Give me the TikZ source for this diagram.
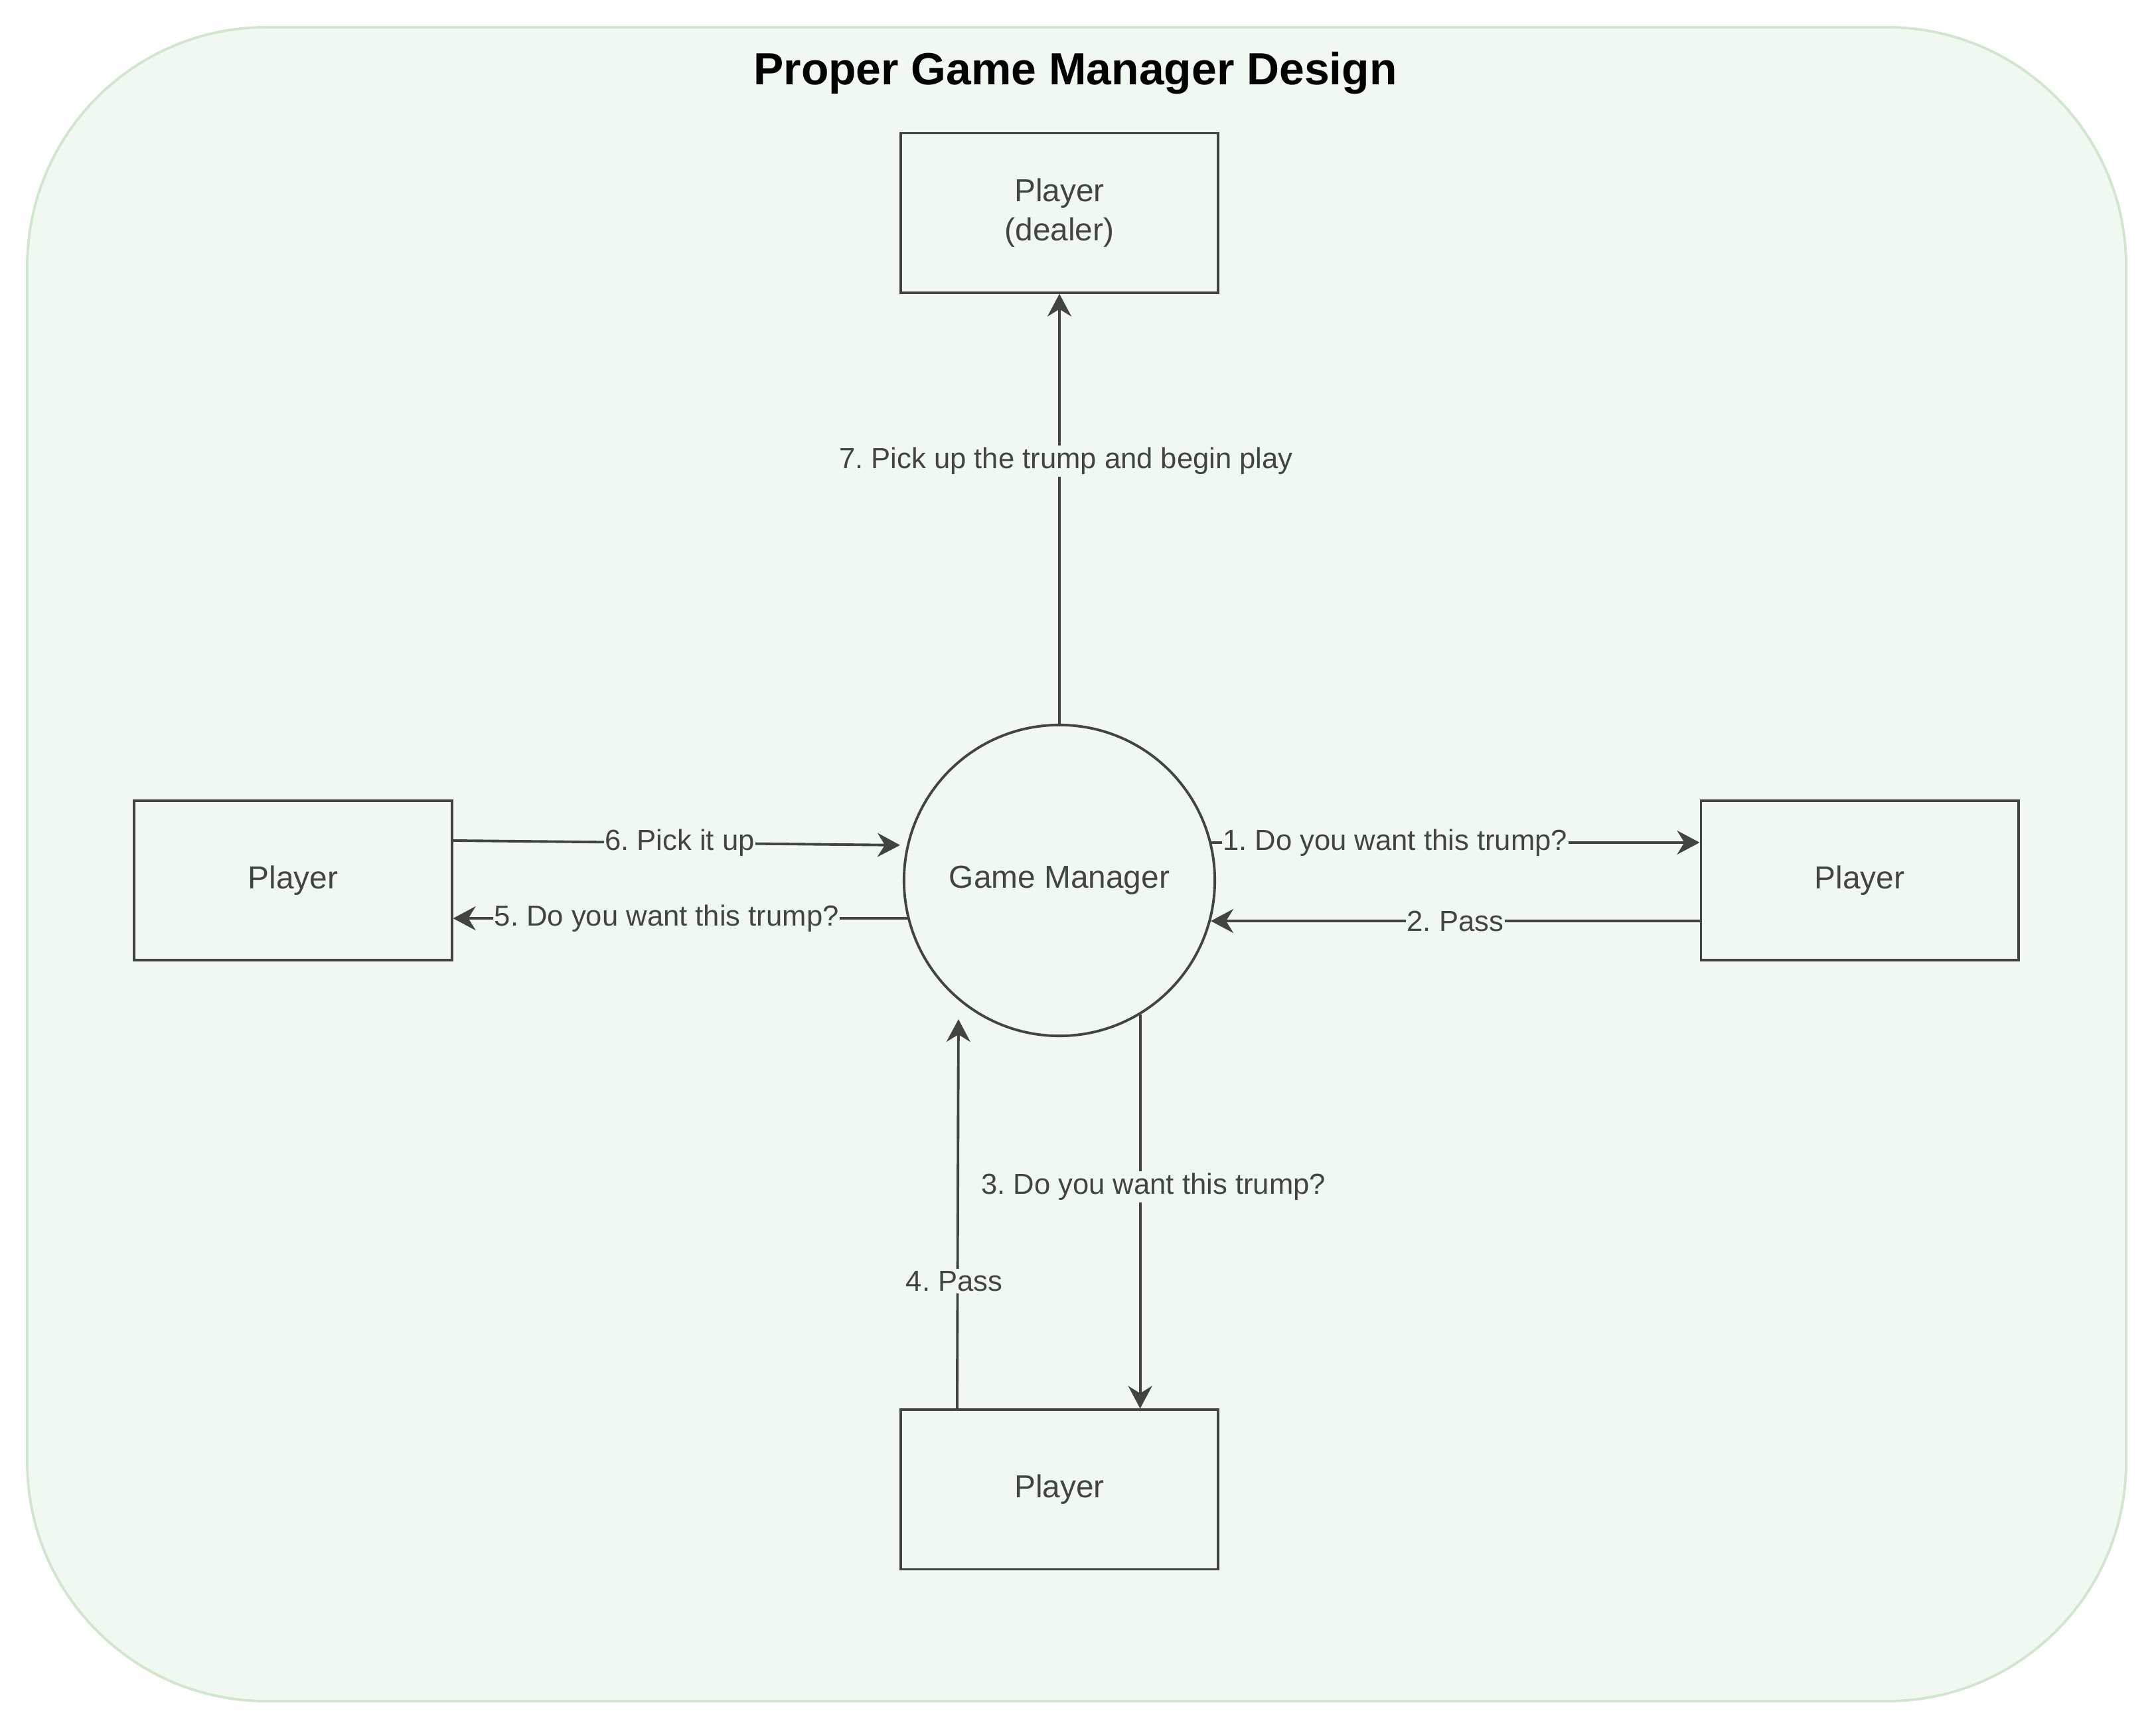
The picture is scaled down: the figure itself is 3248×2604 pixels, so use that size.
\documentclass[tikz,border=0pt]{standalone}
\usepackage{fontspec}
\setmainfont{Liberation Sans}
\usetikzlibrary{positioning,arrows.meta}
\definecolor{ink}{RGB}{64,69,64}
\definecolor{panel}{RGB}{241,248,241}
\definecolor{panelline}{RGB}{210,229,206}
\frenchspacing

\begin{document}
\begin{tikzpicture}[
            x=0.01cm, y=-0.01cm,
            player/.style={rectangle, draw=ink, line width=1.1pt, fill=panel, minimum width=4.78cm, minimum height=2.4cm, align=center, text=ink, font=\fontsize{13.6}{16.6}\selectfont},
            manager/.style={circle, draw=ink, line width=1.1pt, minimum size=4.68cm, text=ink, font=\fontsize{13.6}{16.6}\selectfont},
            flow/.style={-{Stealth[length=3.4mm, width=3.6mm, inset=1.1mm]}, line width=1.1pt, draw=ink},
            lbl/.style={fill=panel, text=ink, inner xsep=0.5pt, inner ysep=1pt, font=\fontsize{12.4}{14}\selectfont}
        ]
        \useasboundingbox (0,0) rectangle (3248,2604);
        \draw[panelline, fill=panel, line width=1.1pt, rounded corners=3.6cm] (41,41) rectangle (3203,2562);
        \node[font=\fontsize{19.3}{23}\selectfont\bfseries] (title) at (1620,110) {Proper Game Manager Design};
        \node[manager] (manager) at (1596,1326) {Game Manager};
        \node[player, above=6.47cm of manager] (dealer) {Player\\(dealer)};
        \node[player, right=7.28cm of manager] (playerR) {Player};
        \node[player, below=5.59cm of manager] (playerB) {Player};
        \node[player, left=6.77cm of manager] (playerL) {Player};
        \draw[flow] (manager.14.86) -- (manager.14.86 -| playerR.west) node[lbl, pos=0.376] {1. Do you want this trump?};
        \draw[flow] (playerR.west |- manager.345.14) -- (manager.345.14) node[lbl, midway] {2. Pass};
        \draw[flow] (manager.301.14) -- (manager.301.14 |- playerB.north) node[lbl, pos=0.437, xshift=2mm] {3. Do you want this trump?};
        \draw[flow] ([xshift=-1.54cm]playerB.north) -- ([xshift=-1.52cm, yshift=0.27cm]manager.south) node[lbl, pos=0.327, xshift=-0.5mm] {4. Pass};
        \draw[flow] (manager.194.86) -- (manager.194.86 -| playerL.east) node[lbl, pos=0.53] {5. Do you want this trump?};
        \draw[flow] ([yshift=0.6cm]playerL.east) -- ([xshift=-0.1cm]manager.167.7) node[lbl, pos=0.507] {6. Pick it up};
        \draw[flow] (manager.north) -- (dealer.south) node[lbl, pos=0.611, xshift=1mm] {7. Pick up the trump and begin play};
        \end{tikzpicture}
\end{document}
